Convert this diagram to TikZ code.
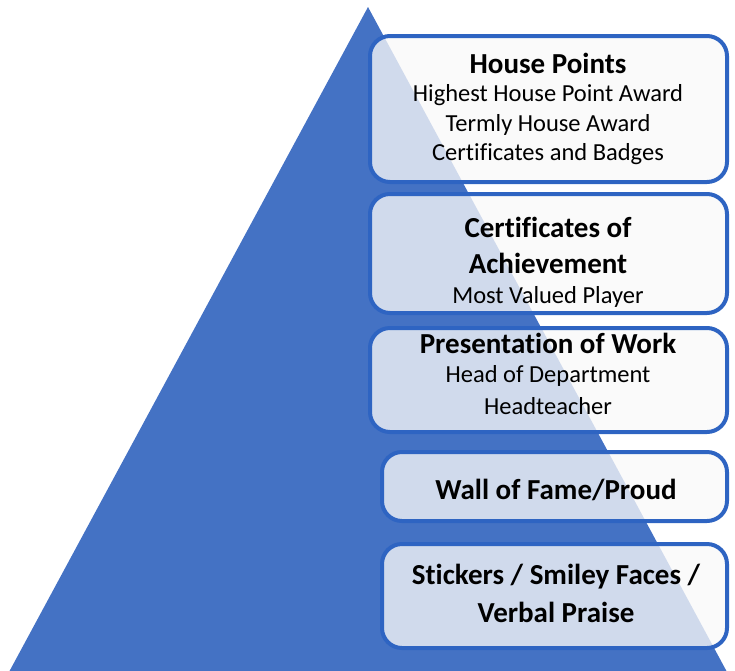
\documentclass[tikz,border=0pt]{standalone}
\usepackage{fontspec}
\setmainfont[Ligatures=NoCommon]{Carlito}
\definecolor{tri}{HTML}{4472C4}
\definecolor{edge}{HTML}{2E64C2}
\definecolor{boxfill}{HTML}{F8F8F8}
\tikzset{
  levelbox/.style={draw=edge, line width=4pt, rounded corners=20pt, fill=boxfill, fill opacity=0.78, draw opacity=1},
  lbl/.style={align=center, text=black, inner sep=0pt},
}
\newcommand{\ttl}{\fontsize{29}{36}\selectfont\bfseries}
\newcommand{\sub}{\fontsize{24.5}{30}\selectfont}
\begin{document}
\begin{tikzpicture}[x=1pt,y=-1pt]
\useasboundingbox (0,0) rectangle (735,670);
\fill[tri] (368,7) -- (9,672) -- (727,672) -- cycle;
% boxes
\draw[levelbox] (370,36) rectangle (727,182);
\draw[levelbox] (370,194) rectangle (727,313);
\draw[levelbox] (370,328) rectangle (727,432);
\draw[levelbox] (382,452) rectangle (727,521);
\draw[levelbox] (382,544) rectangle (727,648);
% texts
\node[lbl] (t1a) at (548,63) {\ttl House Points};
\node[lbl] (t1b) at (548,95) {\sub Highest House Point Award};
\node[lbl] (t1c) at (548,125) {\sub Termly House Award};
\node[lbl] (t1d) at (548,154) {\sub Certificates and Badges};
\node[lbl] (t2a) at (548,227) {\ttl Certificates of};
\node[lbl] (t2b) at (548,263) {\ttl Achievement};
\node[lbl] (t2c) at (548,297) {\sub Most Valued Player};
\node[lbl] (t3a) at (548,343) {\ttl Presentation of Work};
\node[lbl] (t3b) at (548,376) {\sub Head of Department};
\node[lbl] (t3c) at (548,406) {\sub Headteacher};
\node[lbl] (t4) at (556,490) {\ttl Wall of Fame/Proud};
\node[lbl] (t5a) at (556,577) {\ttl Stickers / Smiley Faces /};
\node[lbl] (t5b) at (556,612) {\ttl Verbal Praise};
\end{tikzpicture}
\end{document}
